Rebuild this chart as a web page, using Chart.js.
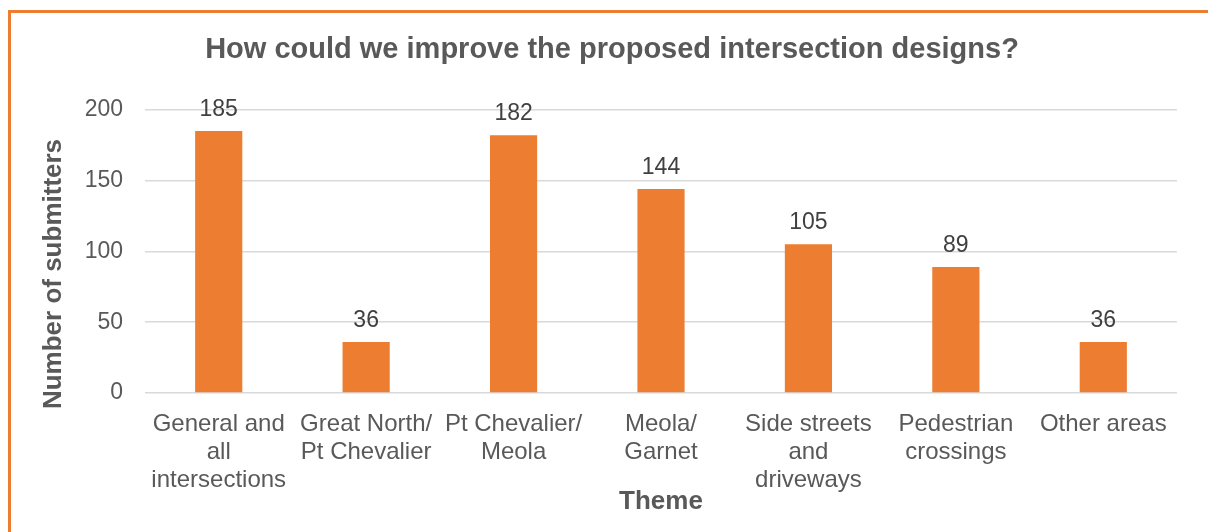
<!DOCTYPE html>
<html>
<head>
<meta charset="utf-8">
<script src="https://cdn.jsdelivr.net/npm/chart.js@4/dist/chart.umd.min.js"></script>
<style>
  html, body { margin: 0; padding: 0; background: #fff; overflow: hidden; }
  #frame {
    position: absolute;
    left: 8px;
    top: 10px;
    width: 1202px;
    height: 530px;
    border-left: 3px solid #ED7D31;
    border-top: 3px solid #ED7D31;
  }
  #chartBox { position: relative; width: 1202px; height: 519px; }
</style>
</head>
<body>
<div id="frame">
  <div id="chartBox"><canvas id="themeChart"></canvas></div>
</div>
<script>

const chartTitle = "How could we improve the proposed intersection designs?";
const xTitle = "Theme";
const yTitle = "Number of submitters";

const themes = [
    ["General and", "all", "intersections"],
    ["Great North/", "Pt Chevalier"],
    ["Pt Chevalier/", "Meola"],
    ["Meola/", "Garnet"],
    ["Side streets", "and", "driveways"],
    ["Pedestrian", "crossings"],
    ["Other areas"]
];

const submitters = [185, 36, 182, 144, 105, 89, 36];

const yTicks = [0, 50, 100, 150, 200];

const orange = "#ED7D31";
const grey = "#595959";

// value printed above each bar
const barLabels = {
    id: "barLabels",
    afterDatasetsDraw(chart) {
        const ctx = chart.ctx;
        const meta = chart.getDatasetMeta(0);
        ctx.save();
        ctx.font = "23px 'Liberation Sans', Arial, sans-serif";
        ctx.fillStyle = "#404040";
        ctx.textAlign = "center";
        ctx.textBaseline = "alphabetic";
        meta.data.forEach((bar, i) => {
            ctx.fillText(String(submitters[i]), bar.x, bar.y - 15);
        });
        ctx.restore();
    }
};

// rotated y axis title, centred a bit lower than the plot
const yAxisTitle = {
    id: "yAxisTitle",
    afterDraw(chart) {
        const ctx = chart.ctx;
        ctx.save();
        ctx.translate(43, 261);
        ctx.rotate(-Math.PI / 2);
        ctx.font = "bold 26px 'Liberation Sans', Arial, sans-serif";
        ctx.fillStyle = grey;
        ctx.textAlign = "center";
        ctx.textBaseline = "middle";
        ctx.fillText(yTitle, 0, 0);
        ctx.restore();
    }
};

new Chart(document.getElementById("themeChart"), {
    type: "bar",
    data: {
        labels: themes,
        datasets: [
            {
                data: submitters,
                backgroundColor: orange,
                borderWidth: 0,
                barPercentage: 0.32,
                categoryPercentage: 1
            }
        ]
    },
    options: {
        responsive: true,
        maintainAspectRatio: false,
        animation: false,
        layout: { padding: 0 },
        plugins: {
            legend: { display: false },
            tooltip: { enabled: false },
            title: {
                display: true,
                text: chartTitle,
                color: grey,
                font: { family: "'Liberation Sans', Arial, sans-serif", size: 29, weight: "bold", lineHeight: 1.2 },
                padding: { top: 20, bottom: 42 }
            }
        },
        scales: {
            x: {
                grid: { display: false },
                border: { display: false },
                ticks: {
                    color: grey,
                    font: { family: "'Liberation Sans', Arial, sans-serif", size: 24, lineHeight: 1.17 },
                    maxRotation: 0,
                    autoSkip: false,
                    padding: 9
                },
                title: {
                    display: true,
                    text: xTitle,
                    color: grey,
                    font: { family: "'Liberation Sans', Arial, sans-serif", size: 26, weight: "bold", lineHeight: 1.2 },
                    padding: { top: 4, bottom: 15 }
                },
                afterFit(scale) { scale.height = 139; }
            },
            y: {
                min: 0,
                max: 200,
                grid: { color: "#D9D9D9", lineWidth: 1.5, drawTicks: false },
                border: { display: false },
                afterBuildTicks(scale) {
                    scale.ticks = yTicks.map(v => ({ value: v }));
                },
                ticks: {
                    color: grey,
                    font: { family: "'Liberation Sans', Arial, sans-serif", size: 23 },
                    padding: 22
                },
                afterFit(scale) { scale.width = 134; }
            },
            // empty strip on the right so the title sits over the whole frame
            yRight: {
                position: "right",
                grid: { display: false },
                border: { display: false },
                ticks: { display: false },
                afterFit(scale) { scale.width = 36; }
            }
        }
    },
    plugins: [barLabels, yAxisTitle]
});

</script>
</body>
</html>
